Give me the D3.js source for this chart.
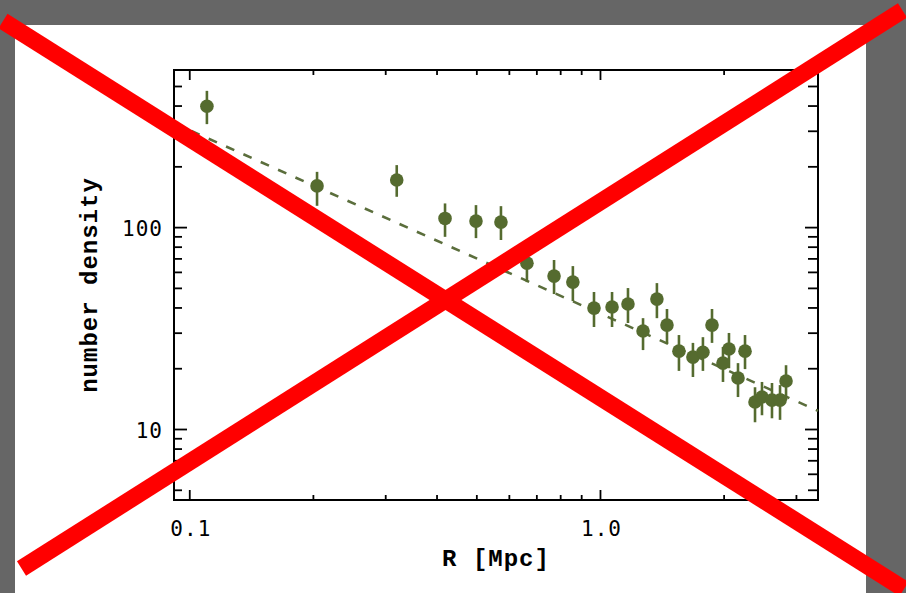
<!DOCTYPE html>
<html>
<head>
<meta charset="utf-8">
<script src="https://cdn.jsdelivr.net/npm/d3@7"></script>
<style>
  html, body { margin: 0; padding: 0; background: #666666; }
  svg { display: block; }
</style>
</head>
<body>
<svg id="chart" width="906" height="593"></svg>
<script>
// ---- data ----
const radius   = [0.1104, 0.2047, 0.320, 0.4195, 0.499, 0.574, 0.664, 0.773, 0.859, 0.967, 1.07, 1.17, 1.273, 1.376,
                  1.456, 1.557, 1.684, 1.781, 1.874, 1.993, 2.061, 2.168, 2.255, 2.385, 2.48, 2.623, 2.744, 2.838];
const density  = [397, 160, 171, 110.4, 107.1, 105.9, 66.3, 57.2, 53.4, 39.7, 40.2, 41.6, 30.6, 44.0,
                  32.7, 24.3, 22.7, 24.0, 32.7, 21.2, 24.9, 17.9, 24.3, 13.6, 14.4, 13.9, 13.9, 17.3];
const errHigh  = [473, 187.8, 202.8, 131, 128.5, 127, 80.5, 68.7, 64.1, 47.7, 47.7, 49.9, 35.4, 52.8,
                  39.3, 29.2, 26.7, 28.5, 39.3, 25.5, 29.9, 21.2, 29.2, 16.1, 17.1, 16.9, 16.5, 20.7];
const errLow   = [323.6, 127.5, 141.3, 89.5, 88.2, 86.3, 53.4, 46.6, 43.0, 32.0, 32.0, 33.5, 24.6, 35.4,
                  26.4, 19.4, 18.1, 19.4, 26.7, 17.1, 20.0, 14.4, 19.8, 10.8, 11.7, 11.3, 11.1, 13.9];
// power-law fit (dashed line) end points
const fitR = [0.0918, 3.395];
const fitN = [327, 12.3];
// axis ticks
const xMajorTicks = [0.1, 1.0];
const xMinorTicks = [0.2, 0.3, 0.4, 0.5, 0.6, 0.7, 0.8, 0.9, 2, 3];
const xTickLabels = ["0.1", "1.0"];
const yMajorTicks = [10, 100];
const yMinorTicks = [5, 6, 7, 8, 9, 20, 30, 40, 50, 60, 70, 80, 90, 200, 300, 400, 500];
const yTickLabels = ["10", "100"];
const xTitle = "R [Mpc]";
const yTitle = "number density";

// ---- layout ----
const W = 906, H = 593;
const plot = { left: 174, right: 818, top: 70, bottom: 500 };
const ink = "#556b2f";

const svg = d3.select("#chart");

svg.append("rect").attr("x", 0).attr("y", 0).attr("width", W).attr("height", H).attr("fill", "#666666");
svg.append("rect").attr("x", 15).attr("y", 25).attr("width", 851).attr("height", H - 25).attr("fill", "#ffffff");

const x = d3.scaleLog().domain([0.0918, 3.395]).range([plot.left, plot.right]);
const y = d3.scaleLog().domain([4.45, 600]).range([plot.bottom, plot.top]);

const g = svg.append("g");

// axes: ticks pointing inwards
function styleAxis(sel) {
  sel.select(".domain").remove();
  sel.selectAll(".tick line").attr("stroke", "#000").attr("stroke-width", 1.8);
}
const pw = plot.right - plot.left, ph = plot.bottom - plot.top;

// bottom
g.append("g").attr("transform", `translate(0,${plot.bottom})`)
  .call(d3.axisBottom(x).tickValues(xMajorTicks).tickSize(-10).tickFormat((d, i) => xTickLabels[i]).tickPadding(20))
  .call(styleAxis)
  .call(s => s.selectAll("text").attr("fill", "#000").attr("font-family", "'DejaVu Sans Mono', monospace")
        .attr("font-size", 21).attr("letter-spacing", 1).attr("dy", "0.75em").attr("dx", "0.05em"));
g.append("g").attr("transform", `translate(0,${plot.bottom})`)
  .call(d3.axisBottom(x).tickValues(xMinorTicks).tickSize(-5).tickFormat(""))
  .call(styleAxis);
// top
g.append("g").attr("transform", `translate(0,${plot.top})`)
  .call(d3.axisTop(x).tickValues(xMajorTicks).tickSize(-10).tickFormat(""))
  .call(styleAxis);
g.append("g").attr("transform", `translate(0,${plot.top})`)
  .call(d3.axisTop(x).tickValues(xMinorTicks).tickSize(-5).tickFormat(""))
  .call(styleAxis);
// left
g.append("g").attr("transform", `translate(${plot.left},0)`)
  .call(d3.axisLeft(y).tickValues(yMajorTicks).tickSize(-13).tickFormat((d, i) => yTickLabels[i]).tickPadding(11))
  .call(styleAxis)
  .call(s => s.selectAll("text").attr("fill", "#000").attr("font-family", "'DejaVu Sans Mono', monospace")
        .attr("font-size", 21).attr("letter-spacing", 1).attr("dy", "0.42em"));
g.append("g").attr("transform", `translate(${plot.left},0)`)
  .call(d3.axisLeft(y).tickValues(yMinorTicks).tickSize(-8).tickFormat(""))
  .call(styleAxis);
// right
g.append("g").attr("transform", `translate(${plot.right},0)`)
  .call(d3.axisRight(y).tickValues(yMajorTicks).tickSize(-13).tickFormat(""))
  .call(styleAxis);
g.append("g").attr("transform", `translate(${plot.right},0)`)
  .call(d3.axisRight(y).tickValues(yMinorTicks).tickSize(-10).tickFormat(""))
  .call(styleAxis);

// frame
g.append("rect").attr("x", plot.left).attr("y", plot.top).attr("width", pw).attr("height", ph)
  .attr("fill", "none").attr("stroke", "#000").attr("stroke-width", 2);

// fit line
const fitData = fitR.map((r, i) => ({ r, n: fitN[i] }));
g.append("path").datum(fitData)
  .attr("d", d3.line().x(d => x(d.r)).y(d => y(d.n)))
  .attr("fill", "none").attr("stroke", "#5b6e3c").attr("stroke-width", 2.6)
  .attr("stroke-dasharray", "9,10");

// data
const pts = radius.map((r, i) => ({ r, n: density[i], lo: errLow[i], hi: errHigh[i] }));
g.append("g").selectAll("line").data(pts).join("line")
  .attr("x1", d => x(d.r)).attr("x2", d => x(d.r))
  .attr("y1", d => y(d.lo)).attr("y2", d => y(d.hi))
  .attr("stroke", ink).attr("stroke-width", 2.6);
g.append("g").selectAll("circle").data(pts).join("circle")
  .attr("cx", d => x(d.r)).attr("cy", d => y(d.n)).attr("r", 6.8)
  .attr("fill", ink);

// axis titles
svg.append("text").attr("x", (plot.left + plot.right) / 2).attr("y", 566)
  .attr("text-anchor", "middle").attr("font-family", "'Liberation Mono', monospace")
  .attr("font-weight", "bold").attr("font-size", 24).attr("letter-spacing", 1).attr("fill", "#000")
  .text(xTitle);
svg.append("text").attr("transform", `translate(97,${(plot.top + plot.bottom) / 2}) rotate(-90)`)
  .attr("text-anchor", "middle").attr("font-family", "'Liberation Mono', monospace")
  .attr("font-weight", "bold").attr("font-size", 24).attr("letter-spacing", 1).attr("fill", "#000")
  .text(yTitle);

// red cross overlay
const cross = [[[3, 21], [904, 589]], [[21.5, 568.5], [902.5, 10.5]]];
svg.append("g").selectAll("line").data(cross).join("line")
  .attr("x1", d => d[0][0]).attr("y1", d => d[0][1])
  .attr("x2", d => d[1][0]).attr("y2", d => d[1][1])
  .attr("stroke", "#ff0000").attr("stroke-width", 17).attr("stroke-linecap", "butt");
</script>
</body>
</html>
